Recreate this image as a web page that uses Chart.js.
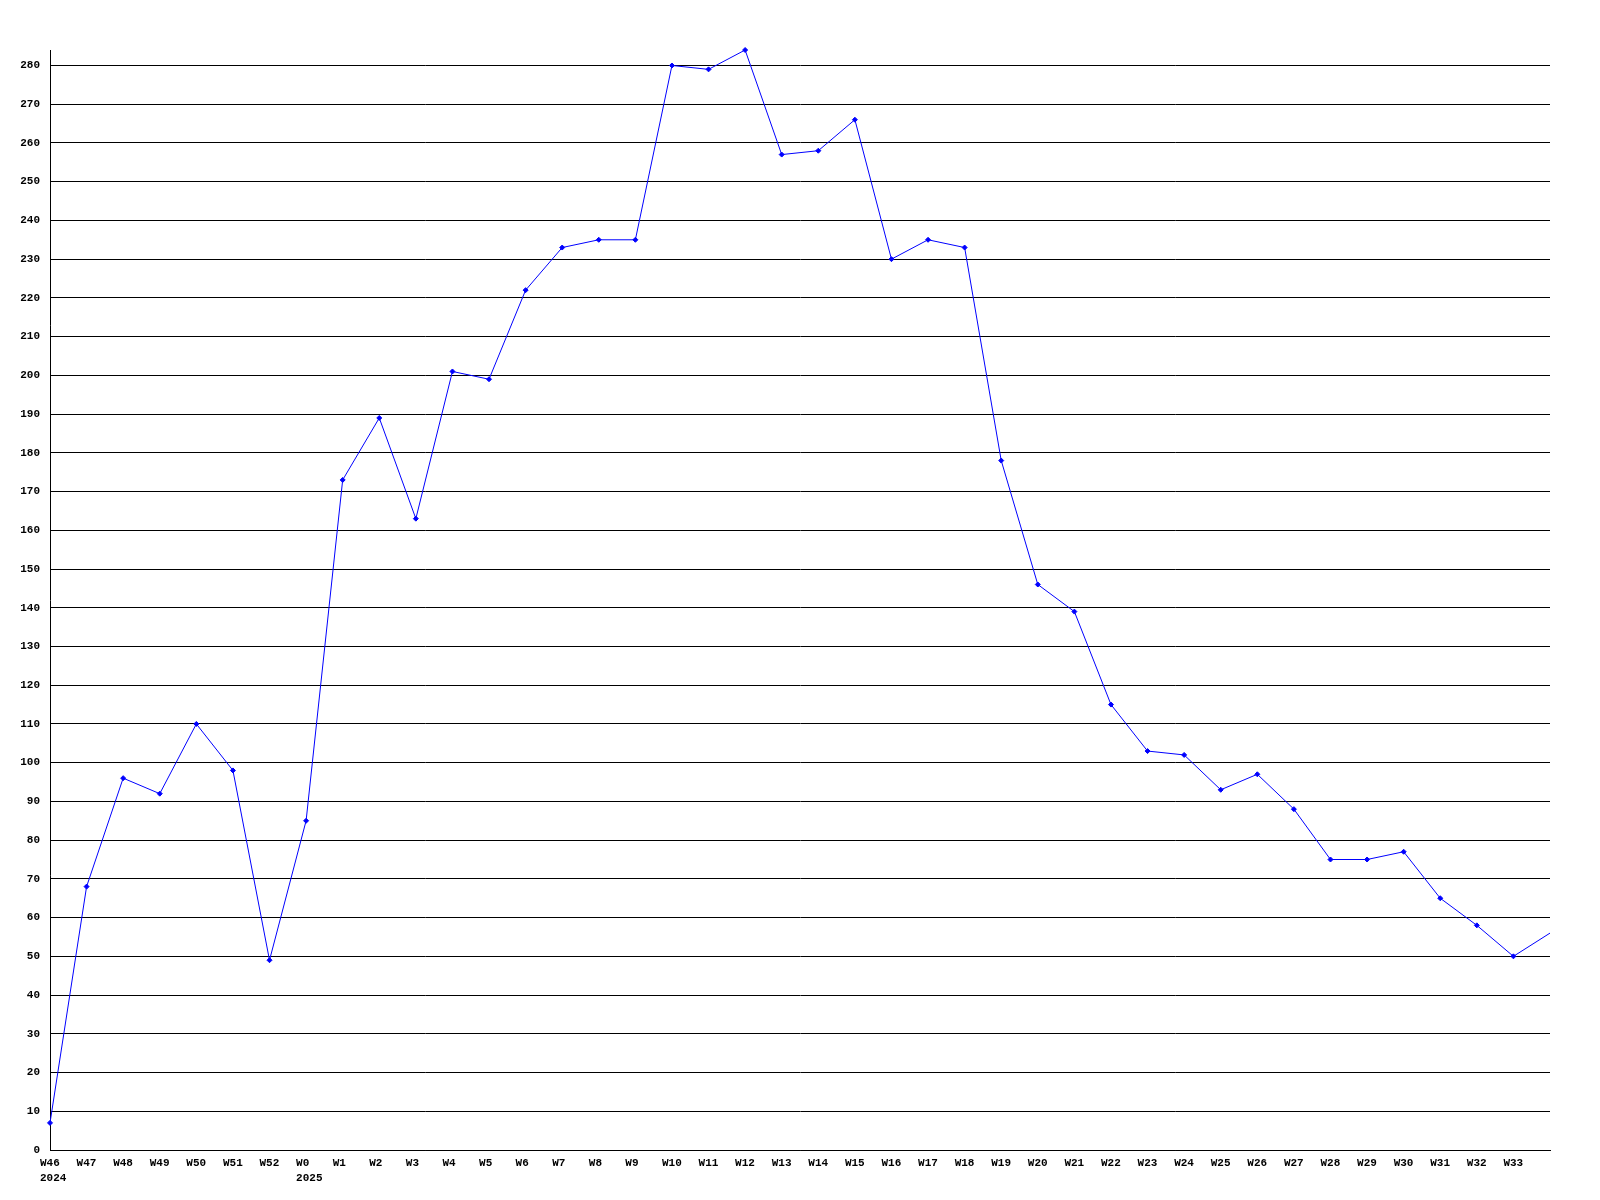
<!DOCTYPE html>
<html>
<head>
<meta charset="utf-8">
<title>Weekly counts</title>
<script src="https://cdn.jsdelivr.net/npm/chart.js@4.4.1/dist/chart.umd.min.js"></script>
<style>
  html, body { margin: 0; padding: 0; background: #fff; }
  #wrap { width: 1600px; height: 1200px; }
</style>
</head>
<body>
<div id="wrap"><canvas id="chart" width="1600" height="1200"></canvas></div>
<script>
// week labels along the bottom (W34 sits on the right edge, unlabelled)
var weekLabels = ['W46', 'W47', 'W48', 'W49', 'W50', 'W51', 'W52', 'W0', 'W1', 'W2',
  'W3', 'W4', 'W5', 'W6', 'W7', 'W8', 'W9', 'W10', 'W11', 'W12',
  'W13', 'W14', 'W15', 'W16', 'W17', 'W18', 'W19', 'W20', 'W21', 'W22',
  'W23', 'W24', 'W25', 'W26', 'W27', 'W28', 'W29', 'W30', 'W31', 'W32',
  'W33', 'W34'];
// year shown under the first week of each year
var yearLabels = { 'W46': '2024', 'W0': '2025' };

var weekValues = [7, 68, 96, 92, 110, 98, 49, 85, 173, 189,
  163, 201, 199, 222, 233, 235, 235, 280, 279, 284,
  257, 258, 266, 230, 235, 233, 178, 146, 139, 115,
  103, 102, 93, 97, 88, 75, 75, 77, 65, 58,
  50, 56];

var yMax = 284;

(function () {
  'use strict';

  var font = { family: '"Liberation Mono", "DejaVu Sans Mono", monospace', size: 11, weight: 'bold', lineHeight: 1.35 };
  var lastIdx = weekValues.length - 1;

  var points = weekValues.map(function (v, i) { return { x: i, y: v }; });

  new Chart(document.getElementById('chart').getContext('2d'), {
    type: 'line',
    data: {
      datasets: [{
        data: points,
        borderColor: '#0000ff',
        borderWidth: 1,
        backgroundColor: '#0000ff',
        pointStyle: 'rectRot',
        // last point sits on the right border, its marker is cut off there
        pointRadius: function (ctx) { return ctx.dataIndex === lastIdx ? 0 : 2.5; },
        pointBorderWidth: 1,
        pointBorderColor: '#0000ff',
        pointBackgroundColor: '#0000ff',
        tension: 0,
        clip: { left: 10, top: 10, right: 0, bottom: 10 }
      }]
    },
    options: {
      responsive: false,
      animation: false,
      events: [],
      layout: { padding: { top: 50, right: 50, left: 0, bottom: 0 } },
      plugins: {
        legend: { display: false },
        tooltip: { enabled: false },
        title: { display: false }
      },
      scales: {
        x: {
          type: 'linear',
          min: 0,
          max: lastIdx,
          afterFit: function (scale) { scale.height = 50; },
          afterBuildTicks: function (scale) {
            var t = [];
            for (var i = 0; i < lastIdx; i++) t.push({ value: i });
            scale.ticks = t;
          },
          grid: { display: false, drawTicks: false },
          border: { display: true, color: '#000', width: 1 },
          ticks: {
            autoSkip: false,
            maxRotation: 0,
            align: 'start',
            labelOffset: -10,
            padding: 6,
            color: '#000',
            font: font,
            callback: function (value) {
              var w = weekLabels[value];
              if (!w) return '';
              return yearLabels[w] ? [w, yearLabels[w]] : w;
            }
          }
        },
        y: {
          type: 'linear',
          min: 0,
          max: yMax,
          afterFit: function (scale) { scale.width = 50; },
          afterBuildTicks: function (scale) {
            var t = [];
            for (var v = 0; v <= yMax; v += 10) t.push({ value: v });
            scale.ticks = t;
          },
          grid: { color: '#000', lineWidth: 1, drawTicks: false },
          border: { display: true, color: '#000', width: 1 },
          ticks: {
            padding: 10,
            color: '#000',
            font: { family: font.family, size: 11, weight: 'bold' }
          }
        }
      }
    }
  });
})();
</script>
</body>
</html>
